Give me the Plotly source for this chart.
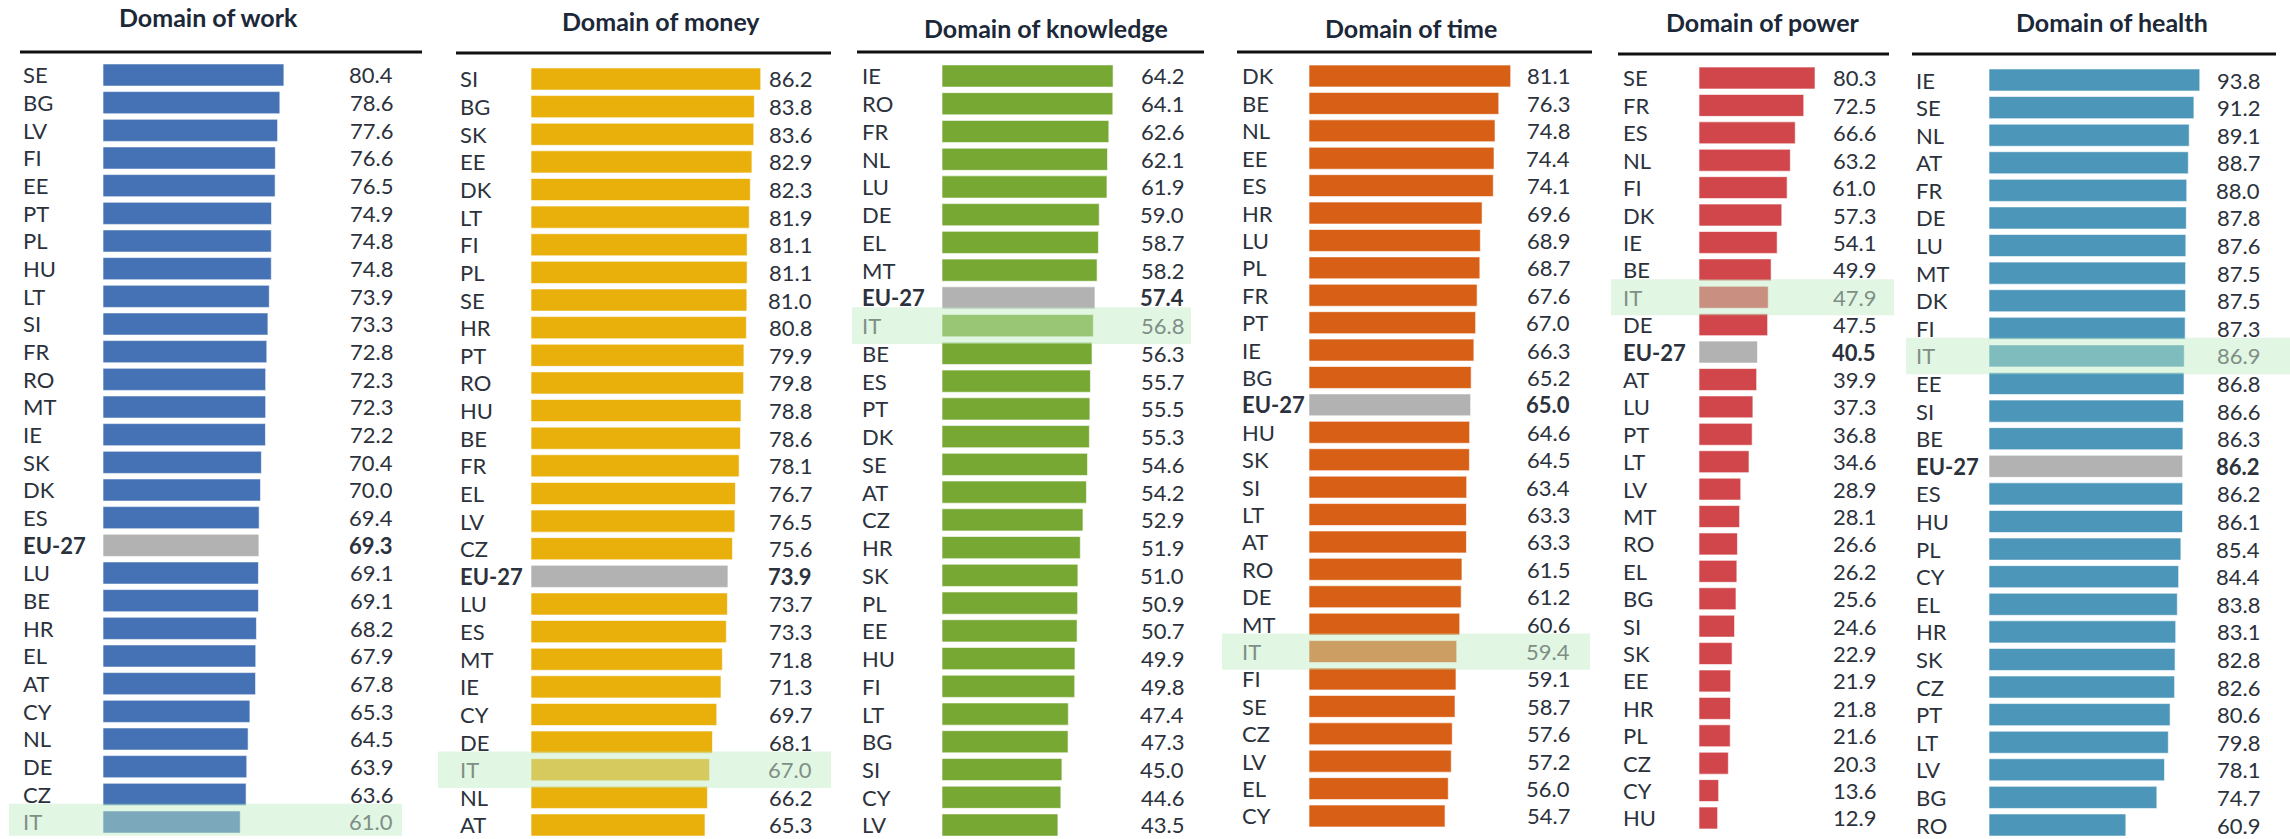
import plotly.graph_objects as go

W, H = 2290, 839

# ---- data ----
work_countries = ["SE", "BG", "LV", "FI", "EE", "PT", "PL", "HU", "LT", "SI", "FR", "RO", "MT", "IE",
                  "SK", "DK", "ES", "EU-27", "LU", "BE", "HR", "EL", "AT", "CY", "NL", "DE", "CZ", "IT"]
work_values = [80.4, 78.6, 77.6, 76.6, 76.5, 74.9, 74.8, 74.8, 73.9, 73.3, 72.8, 72.3, 72.3, 72.2,
               70.4, 70.0, 69.4, 69.3, 69.1, 69.1, 68.2, 67.9, 67.8, 65.3, 64.5, 63.9, 63.6, 61.0]

money_countries = ["SI", "BG", "SK", "EE", "DK", "LT", "FI", "PL", "SE", "HR", "PT", "RO", "HU", "BE",
                   "FR", "EL", "LV", "CZ", "EU-27", "LU", "ES", "MT", "IE", "CY", "DE", "IT", "NL", "AT"]
money_values = [86.2, 83.8, 83.6, 82.9, 82.3, 81.9, 81.1, 81.1, 81.0, 80.8, 79.9, 79.8, 78.8, 78.6,
                78.1, 76.7, 76.5, 75.6, 73.9, 73.7, 73.3, 71.8, 71.3, 69.7, 68.1, 67.0, 66.2, 65.3]

knowledge_countries = ["IE", "RO", "FR", "NL", "LU", "DE", "EL", "MT", "EU-27", "IT", "BE", "ES", "PT", "DK",
                       "SE", "AT", "CZ", "HR", "SK", "PL", "EE", "HU", "FI", "LT", "BG", "SI", "CY", "LV"]
knowledge_values = [64.2, 64.1, 62.6, 62.1, 61.9, 59.0, 58.7, 58.2, 57.4, 56.8, 56.3, 55.7, 55.5, 55.3,
                    54.6, 54.2, 52.9, 51.9, 51.0, 50.9, 50.7, 49.9, 49.8, 47.4, 47.3, 45.0, 44.6, 43.5]

time_countries = ["DK", "BE", "NL", "EE", "ES", "HR", "LU", "PL", "FR", "PT", "IE", "BG", "EU-27", "HU",
                  "SK", "SI", "LT", "AT", "RO", "DE", "MT", "IT", "FI", "SE", "CZ", "LV", "EL", "CY"]
time_values = [81.1, 76.3, 74.8, 74.4, 74.1, 69.6, 68.9, 68.7, 67.6, 67.0, 66.3, 65.2, 65.0, 64.6,
               64.5, 63.4, 63.3, 63.3, 61.5, 61.2, 60.6, 59.4, 59.1, 58.7, 57.6, 57.2, 56.0, 54.7]

power_countries = ["SE", "FR", "ES", "NL", "FI", "DK", "IE", "BE", "IT", "DE", "EU-27", "AT", "LU", "PT",
                   "LT", "LV", "MT", "RO", "EL", "BG", "SI", "SK", "EE", "HR", "PL", "CZ", "CY", "HU"]
power_values = [80.3, 72.5, 66.6, 63.2, 61.0, 57.3, 54.1, 49.9, 47.9, 47.5, 40.5, 39.9, 37.3, 36.8,
                34.6, 28.9, 28.1, 26.6, 26.2, 25.6, 24.6, 22.9, 21.9, 21.8, 21.6, 20.3, 13.6, 12.9]

health_countries = ["IE", "SE", "NL", "AT", "FR", "DE", "LU", "MT", "DK", "FI", "IT", "EE", "SI", "BE",
                    "EU-27", "ES", "HU", "PL", "CY", "EL", "HR", "SK", "CZ", "PT", "LT", "LV", "BG", "RO"]
health_values = [93.8, 91.2, 89.1, 88.7, 88.0, 87.8, 87.6, 87.5, 87.5, 87.3, 86.9, 86.8, 86.6, 86.3,
                 86.2, 86.2, 86.1, 85.4, 84.4, 83.8, 83.1, 82.8, 82.6, 80.6, 79.8, 78.1, 74.7, 60.9]

titles = ["Domain of work", "Domain of money", "Domain of knowledge",
          "Domain of time", "Domain of power", "Domain of health"]
colors = ["#4472B4", "#E9B00C", "#78A834", "#D85F16", "#D1464B", "#4B96B9"]

# ---- layout of each panel (pixels) ----
# label_x, value_x, bar_x0, px_per_unit, first_row_y, last_row_y, title_x, title_y, line_x0, line_x1, line_y, band_x0, band_x1
geom = [
    (22, 394, 103, 2.25, 75, 822, 208, 17, 20, 422, 52, 9, 402),
    (459, 813, 531, 2.665, 79, 825, 661, 21, 456, 831, 53, 438, 831),
    (861, 1185, 942, 2.665, 76, 825, 1046, 28, 857, 1204, 52, 852, 1191),
    (1241, 1571, 1309, 2.487, 76, 816, 1411, 28, 1237, 1592, 52, 1222, 1590),
    (1622, 1877, 1699, 1.445, 78, 818, 1763, 22, 1618, 1889, 54, 1611, 1894),
    (1915, 2261, 1989, 2.247, 80, 825, 2112, 22, 1912, 2276, 54, 1906, 2290),
]

data = [
    (work_countries, work_values),
    (money_countries, money_values),
    (knowledge_countries, knowledge_values),
    (time_countries, time_values),
    (power_countries, power_values),
    (health_countries, health_values),
]

FONT = "Lato"
TXT = "#2c323c"
IT_TXT = "#7f8f86"
EU_GREY = "#B2B2B2"


def px(x):
    return x / W


def py(y):
    return 1 - y / H


fig = go.Figure()
annotations = []
shapes = []
layout_axes = {}

for k, ((countries, values), g, title, col) in enumerate(zip(data, geom, titles, colors), start=1):
    label_x, value_x, x0, scale, fy, ly, tx, ty, lx0, lx1, lyy, bx0, bx1 = g
    n = len(countries)
    step = (ly - fy) / (n - 1)
    top = fy - step / 2
    bottom = ly + step / 2
    xs = "x" if k == 1 else "x%d" % k
    ys = "y" if k == 1 else "y%d" % k

    bar_colors = [EU_GREY if c == "EU-27" else col for c in countries]
    fig.add_trace(go.Bar(
        x=values, y=list(range(n)), orientation="h",
        marker=dict(color=bar_colors, line=dict(color="rgba(255,255,255,0.6)", width=1)),
        width=0.8, xaxis=xs, yaxis=ys, hoverinfo="skip", showlegend=False,
    ))

    layout_axes["xaxis" if k == 1 else "xaxis%d" % k] = dict(
        domain=[px(x0), px(x0 + 100 * scale)], range=[0, 100], visible=False,
        anchor=ys, fixedrange=True)
    layout_axes["yaxis" if k == 1 else "yaxis%d" % k] = dict(
        domain=[py(bottom), py(top)], range=[n - 0.5, -0.5], visible=False,
        anchor=xs, fixedrange=True)

    for i, (c, v) in enumerate(zip(countries, values)):
        bold = c == "EU-27"
        tcol = IT_TXT if c == "IT" else TXT
        lab = "<b>%s</b>" % c if bold else c
        val = "<b>%.1f</b>" % v if bold else "%.1f" % v
        annotations.append(dict(x=px(label_x), xref="paper", y=i, yref=ys, text=lab,
                                xanchor="left", yanchor="middle", showarrow=False, borderpad=0,
                                font=dict(family=FONT, size=22, color=tcol)))
        annotations.append(dict(x=px(value_x), xref="paper", y=i, yref=ys, text=val,
                                xanchor="right", yanchor="middle", showarrow=False, borderpad=0,
                                font=dict(family=FONT, size=22, color=tcol)))

    # title and rule
    annotations.append(dict(x=px(tx), xref="paper", y=py(ty), yref="paper",
                            text="<b>%s</b>" % title, xanchor="center", yanchor="middle",
                            showarrow=False, font=dict(family=FONT, size=25, color="#1c2838")))
    shapes.append(dict(type="line", xref="paper", yref="paper", x0=px(lx0), x1=px(lx1),
                       y0=py(lyy), y1=py(lyy), line=dict(color="#111111", width=3)))

    # Italy highlight band
    it = countries.index("IT")
    shapes.append(dict(type="rect", xref="paper", yref=ys, x0=px(bx0), x1=px(bx1),
                       y0=it - 0.66, y1=it + 0.66, fillcolor="rgba(190,235,195,0.45)",
                       line=dict(width=0), layer="above"))

fig.update_layout(
    width=W, height=H,
    margin=dict(l=0, r=0, t=0, b=0),
    paper_bgcolor="white", plot_bgcolor="rgba(0,0,0,0)",
    annotations=annotations, shapes=shapes,
    bargap=0.2,
    **layout_axes,
)

# drop the default body margin so the figure sits at the window's top-left corner
fig.write_html("out.html", config={"displayModeBar": False},
               post_script="document.body.style.margin='0';")
